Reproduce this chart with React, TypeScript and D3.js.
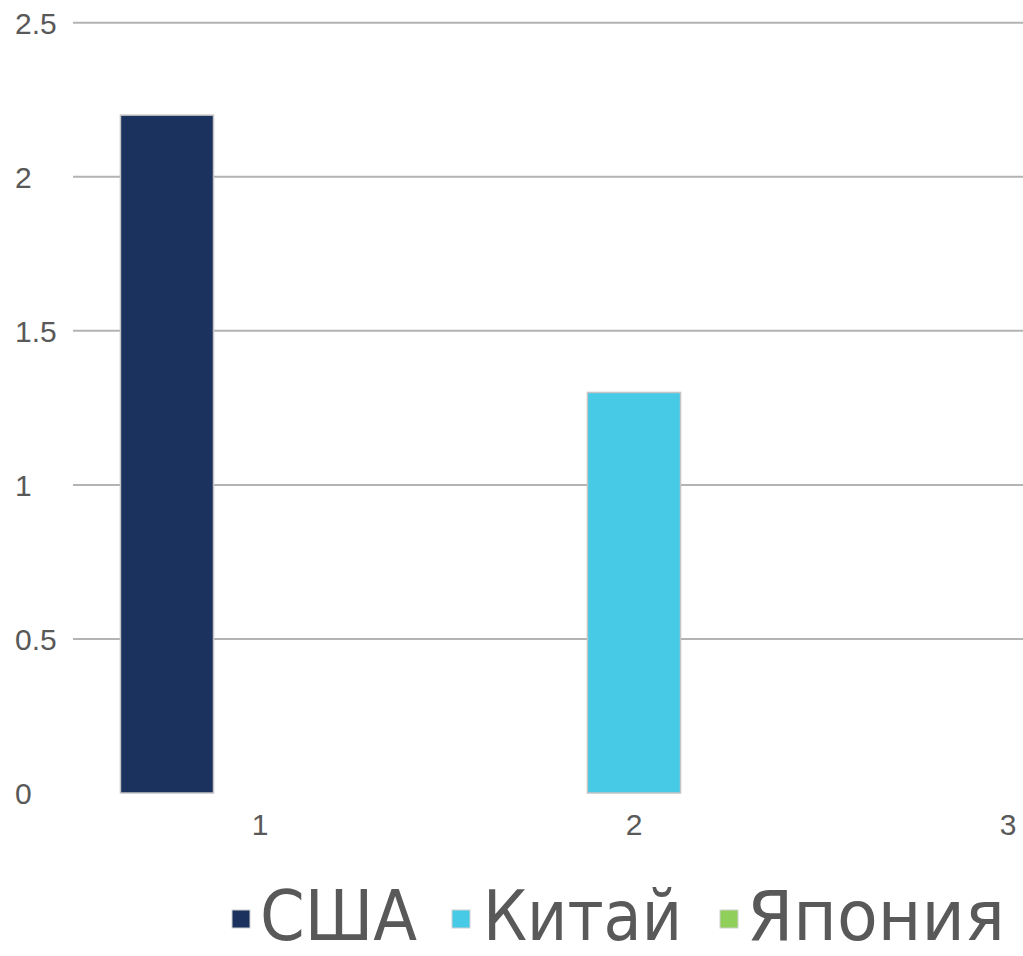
import React, { useEffect, useRef } from 'react';
import * as d3 from 'd3';

const categories = ['1', '2', '3'];
const seriesNames = ['США', 'Китай', 'Япония'];
const usaValues = [2.2, 0, 0];
const chinaValues = [0, 1.3, 0];
const japanValues = [0, 0, 0];
const seriesColors = ['#1b325f', '#46cae6', '#8fcf5a'];
const yTicks = [0, 0.5, 1, 1.5, 2, 2.5];

const App: React.FC = () => {
  const svgRef = useRef<SVGSVGElement>(null);

  useEffect(() => {
    if (!svgRef.current) return;
    const width = 1023;
    const height = 956;
    const svg = d3.select(svgRef.current);
    svg.selectAll('*').remove();
    svg.attr('width', width).attr('height', height);

    const left = 73;
    const step = 374;
    const y = d3.scaleLinear().domain([0, 2.5]).range([793, 22.7]);
    const x = d3.scaleBand<string>().domain(categories).range([left, left + step * categories.length]).padding(0);
    const xInner = d3.scaleBand<string>().domain(seriesNames).range([0, x.bandwidth()]).paddingInner(0).paddingOuter(0.51);

    // gridlines (no line at zero)
    svg.append('g')
      .selectAll('line')
      .data(yTicks.filter(t => t > 0))
      .join('line')
      .attr('x1', left)
      .attr('x2', width)
      .attr('y1', d => y(d))
      .attr('y2', d => y(d))
      .attr('stroke', '#b3b3b3')
      .attr('stroke-width', 2);

    // y labels
    svg.append('g')
      .selectAll('text')
      .data(yTicks)
      .join('text')
      .attr('x', 15)
      .attr('y', d => y(d) + 11)
      .attr('font-family', '"Liberation Sans", Arial, sans-serif')
      .attr('font-size', 30)
      .attr('fill', '#595959')
      .text(d => String(d));

    // bars
    const allValues = [usaValues, chinaValues, japanValues];
    const rows = seriesNames.flatMap((s, si) =>
      categories.map((c, ci) => ({ s, c, v: allValues[si][ci], color: seriesColors[si] }))
    ).filter(d => d.v > 0);

    svg.append('g')
      .selectAll('rect')
      .data(rows)
      .join('rect')
      .attr('x', d => (x(d.c) ?? 0) + (xInner(d.s) ?? 0))
      .attr('y', d => y(d.v))
      .attr('width', xInner.bandwidth())
      .attr('height', d => y(0) - y(d.v))
      .attr('fill', d => d.color)
      .attr('stroke', '#c4c4c4')
      .attr('stroke-width', 1.5);

    // x labels
    svg.append('g')
      .selectAll('text')
      .data(categories)
      .join('text')
      .attr('x', d => (x(d) ?? 0) + x.bandwidth() / 2)
      .attr('y', 835)
      .attr('text-anchor', 'middle')
      .attr('font-family', '"Liberation Sans", Arial, sans-serif')
      .attr('font-size', 30)
      .attr('fill', '#595959')
      .text(d => d);

    // legend
    const legendItems = [
      { sq: 232, tx: 260, len: 157 },
      { sq: 452, tx: 483, len: 199 },
      { sq: 720, tx: 747, len: 258 },
    ];
    const lg = svg.append('g');
    seriesNames.forEach((name, i) => {
      const it = legendItems[i];
      lg.append('rect')
        .attr('x', it.sq)
        .attr('y', 910)
        .attr('width', 18)
        .attr('height', 18)
        .attr('fill', seriesColors[i])
        .attr('stroke', '#d0d0d0')
        .attr('stroke-width', 1);
      lg.append('text')
        .attr('x', it.tx)
        .attr('y', 940)
        .attr('font-family', '"DejaVu Sans", sans-serif')
        .attr('font-size', 70)
        .attr('fill', '#595959')
        .attr('textLength', it.len)
        .attr('lengthAdjust', 'spacingAndGlyphs')
        .text(name);
    });
  }, []);

  return <svg ref={svgRef} style={{ position: 'absolute', left: 0, top: 0 }}></svg>;
};

export default App;
